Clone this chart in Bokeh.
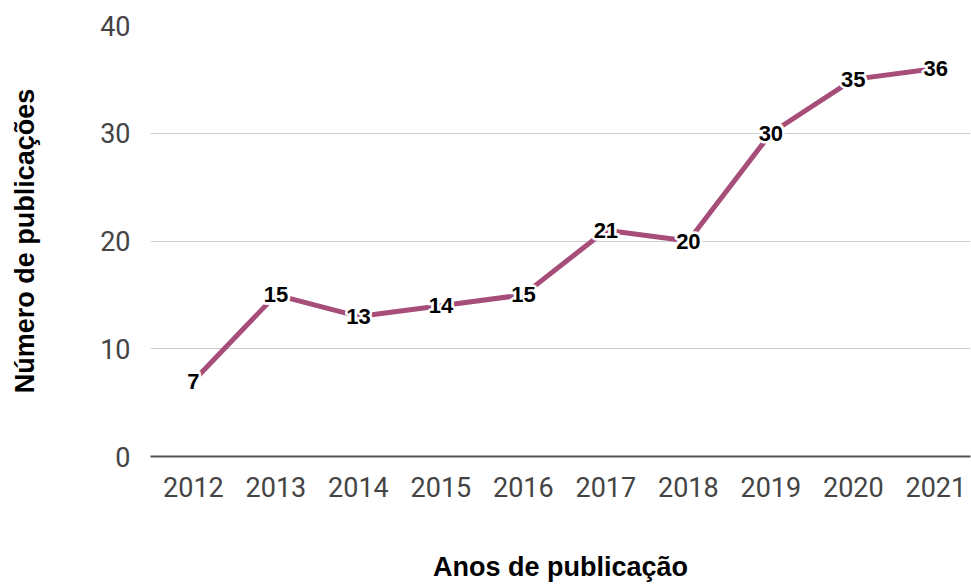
from bokeh.plotting import figure
from bokeh.models import Range1d, FixedTicker, ColumnDataSource
from bokeh.core.properties import value
from bokeh.embed import file_html
from bokeh.resources import INLINE

years = [2012, 2013, 2014, 2015, 2016, 2017, 2018, 2019, 2020, 2021]
counts = [7, 15, 13, 14, 15, 21, 20, 30, 35, 36]
y_ticks = [0, 10, 20, 30, 40]
x_title = "Anos de publicação"
y_title = "Número de publicações"

src = ColumnDataSource(dict(x=years, y=counts, lbl=[str(c) for c in counts]))

p = figure(width=971, height=584, output_backend="svg", toolbar_location=None,
           x_range=Range1d(2011.48, 2021.42), y_range=Range1d(0, 40))
p.min_border_left = 150
p.min_border_right = 1
p.min_border_top = 25
p.min_border_bottom = 128
p.outline_line_color = None

p.line("x", "y", source=src, line_color="#a64d79", line_width=5)
lbl_kw = dict(text_align="center", text_baseline="middle",
              text_font=value("Liberation Sans"), text_font_style="bold",
              text_font_size="22px")
# white halo around the data labels
for dx, dy in [(-2, 0), (2, 0), (0, -2), (0, 2), (-1.5, -1.5), (1.5, -1.5), (-1.5, 1.5), (1.5, 1.5)]:
    p.text("x", "y", text="lbl", source=src, text_color="white",
           text_outline_color="white", x_offset=dx, y_offset=dy, **lbl_kw)
p.text("x", "y", text="lbl", source=src, text_color="black", **lbl_kw)

p.xgrid.grid_line_color = None
p.ygrid.grid_line_color = "#cccccc"
p.ygrid.grid_line_width = 1

p.xaxis.ticker = FixedTicker(ticks=years)
p.yaxis.ticker = FixedTicker(ticks=y_ticks)

for ax in (p.xaxis, p.yaxis):
    ax.major_tick_line_color = None
    ax.minor_tick_line_color = None
    ax.major_label_text_font = "Roboto"
    ax.major_label_text_font_size = "27px"
    ax.major_label_text_color = "#444444"
    ax.axis_label_text_font = "Liberation Sans"
    ax.axis_label_text_font_style = "bold"
    ax.axis_label_text_font_size = "27px"
    ax.axis_label_text_color = "black"

p.yaxis.axis_line_color = None
p.xaxis.axis_line_color = "#555555"
p.xaxis.axis_line_width = 2
p.yaxis.major_label_standoff = 14
p.xaxis.major_label_standoff = 14
p.xaxis.axis_label = x_title
p.yaxis.axis_label = y_title
p.xaxis.axis_label_standoff = 52
p.yaxis.axis_label_standoff = 57

open("out.html", "w").write(file_html(p, INLINE))
